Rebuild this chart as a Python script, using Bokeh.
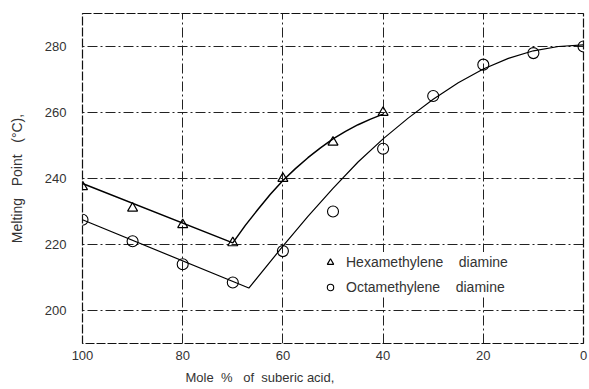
from bokeh.plotting import figure
from bokeh.models import Range1d, FixedTicker, Legend, LegendItem, Title
from bokeh.embed import file_html
from bokeh.resources import INLINE

# Measured points
hexa_x = [100, 90, 80, 70, 60, 50, 40]
hexa_y = [237.5, 231, 226, 220.5, 240, 251, 260]
octa_x = [100, 90, 80, 70, 60, 50, 40, 30, 20, 10, 0]
octa_y = [227.5, 221, 214, 208.5, 218, 230, 249, 265, 274.5, 278, 280]

# Hand-drawn fitted curves
hexa_fit_x = [100, 70, 67.5, 65, 62.5, 60, 57.5, 55, 52.5, 50, 47.5, 45, 42.5, 40]
hexa_fit_y = [238.5, 220.5, 225.8, 230.6, 235.2, 239.4, 243, 246.3, 249.3, 252, 254.3, 256.3, 258, 259.5]
octa_fit_x = [100, 66.8, 60, 55, 50, 45, 40, 35, 30, 25, 20, 15, 10, 5, 0]
octa_fit_y = [227.5, 206.8, 219.5, 228.5, 237, 245, 252, 258.3, 264, 269, 273.2, 276.4, 278.7, 280, 280.5]

x_ticks = [100, 80, 60, 40, 20, 0]
y_ticks = [200, 220, 240, 260, 280]

FONT = "Liberation Sans"
TXT = "#333333"
SP = "\u00a0"

p = figure(frame_width=501, frame_height=330, output_backend="svg",
           toolbar_location=None, x_range=Range1d(100, 0), y_range=Range1d(190, 290),
           min_border_left=82, min_border_right=6, min_border_top=13, min_border_bottom=46)
p.background_fill_color = "white"
p.border_fill_color = "white"
p.outline_line_color = "#111111"
p.outline_line_dash = "9 2"
p.outline_line_width = 1.2

for ax in (p.xaxis, p.yaxis):
    ax.axis_line_color = None
    ax.major_tick_line_color = None
    ax.minor_tick_line_color = None
    ax.major_label_text_font = FONT
    ax.major_label_text_font_size = "13px"
    ax.major_label_text_color = TXT
    ax.axis_label_text_font = FONT
    ax.axis_label_text_font_style = "normal"
    ax.axis_label_text_color = TXT
    ax.axis_label_text_font_size = "13px"

p.xaxis.ticker = FixedTicker(ticks=x_ticks)
p.yaxis.ticker = FixedTicker(ticks=y_ticks)
p.xaxis.major_label_standoff = 1
p.yaxis.major_label_standoff = 10
p.yaxis.axis_label = "Melting" + SP * 3 + "Point" + SP * 3 + "(°C),"
p.yaxis.axis_label_text_font_size = "14px"
p.yaxis.axis_label_standoff = 17

p.add_layout(Title(text="Mole" + SP * 2 + "%" + SP * 3 + "of" + SP * 2 + "suberic" + SP + "acid,",
                   align="left", offset=103,
                   text_font=FONT, text_font_size="13px", text_font_style="normal",
                   text_color=TXT, standoff=11), "below")

for g in (p.xgrid, p.ygrid):
    g.grid_line_color = "#222222"
    g.grid_line_dash = "10 3 2 3"
    g.grid_line_width = 1

p.line(hexa_fit_x, hexa_fit_y, line_color="black", line_width=1.5)
p.line(octa_fit_x, octa_fit_y, line_color="black", line_width=1.2)
tri = p.scatter(hexa_x, hexa_y, marker="triangle", size=10, fill_color=None,
                line_color="black", line_width=1.2)
cir = p.scatter(octa_x, octa_y, marker="circle", size=11, fill_color=None,
                line_color="black", line_width=1.1)

legend = Legend(items=[LegendItem(label="Hexamethylene" + SP * 4 + "diamine", renderers=[tri]),
                       LegendItem(label="Octamethylene" + SP * 4 + "diamine", renderers=[cir])],
                location=(240, 46), border_line_color=None, background_fill_color="white",
                background_fill_alpha=1, label_text_font=FONT, label_text_font_size="14px",
                label_text_color=TXT, glyph_width=16, glyph_height=20, label_height=20,
                spacing=5, padding=6, margin=0, label_standoff=8)
p.add_layout(legend)

open("out.html", "w").write(file_html(p, INLINE))
